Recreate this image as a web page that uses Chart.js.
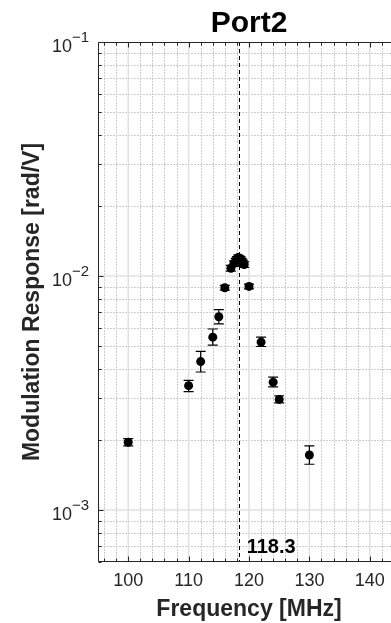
<!DOCTYPE html>
<html><head><meta charset="utf-8">
<script src="https://cdn.jsdelivr.net/npm/chart.js@4"></script>
<style>html,body{margin:0;padding:0;background:#fff;overflow:hidden;}
#wrap{position:relative;width:410px;height:623px;}
</style></head><body>
<div id="wrap"><canvas id="c"></canvas></div>
<script>
// ---- data ----
const frequencies = [100, 110, 112, 114, 115, 116, 117, 117.5, 117.8, 118, 118.2, 118.4, 118.6, 118.8, 119, 119.2, 120, 122, 124, 125, 130];
const response    = [1.95e-3, 3.40e-3, 4.31e-3, 5.48e-3, 6.70e-3, 8.91e-3, 1.08e-2, 1.13e-2, 1.16e-2, 1.18e-2, 1.20e-2, 1.19e-2, 1.18e-2, 1.16e-2, 1.14e-2, 1.12e-2, 9.03e-3, 5.22e-3, 3.52e-3, 2.97e-3, 1.72e-3];
const errLow      = [1.88e-3, 3.21e-3, 3.89e-3, 5.07e-3, 6.24e-3, 8.70e-3, 1.05e-2, 1.10e-2, 1.13e-2, 1.15e-2, 1.17e-2, 1.16e-2, 1.15e-2, 1.13e-2, 1.11e-2, 1.09e-2, 8.82e-3, 5.00e-3, 3.36e-3, 2.87e-3, 1.57e-3];
const errHigh     = [2.02e-3, 3.58e-3, 4.77e-3, 5.94e-3, 7.18e-3, 9.12e-3, 1.11e-2, 1.16e-2, 1.19e-2, 1.21e-2, 1.23e-2, 1.22e-2, 1.21e-2, 1.19e-2, 1.17e-2, 1.15e-2, 9.24e-3, 5.48e-3, 3.70e-3, 3.08e-3, 1.88e-3];
const xTickValues = [100, 110, 120, 130, 140];
const yDecades = [1e-3, 1e-2, 1e-1];
const yTickExponents = ['\u22123', '\u22122', '\u22121'];
const resonanceFreq = 118.3;
const resonanceLabel = '118.3';
const chartTitle = 'Port2';
const xTitle = 'Frequency [MHz]';
const yTitle = 'Modulation Response [rad/V]';

const X_MIN = 95, X_MAX = 145, Y_MIN = 6e-4, Y_MAX = 1e-1;
const xMinorGrid = []; for (let v = 96; v <= 144; v += 2) xMinorGrid.push(v);
const yMinorGrid = []; for (let e = -4; e <= -1; e++) for (let m = 1; m <= 9; m++) { const v = m * Math.pow(10, e); if (v >= Y_MIN * 0.999 && v <= Y_MAX * 1.001) yMinorGrid.push(v); }

const FONT = '"Liberation Sans", Arial, Helvetica, sans-serif';
const AXIS_COLOR = '#262626';

const decor = {
  id: 'decor',
  beforeDatasetsDraw(chart) {
    const {ctx, chartArea: a, scales: {x, y}} = chart;
    ctx.save();
    ctx.beginPath(); ctx.rect(a.left, a.top, a.right - a.left, a.bottom - a.top); ctx.clip();
    // minor grid (dotted)
    ctx.strokeStyle = '#cdcdcd'; ctx.lineWidth = 1; ctx.setLineDash([2, 1]);
    xMinorGrid.forEach(v => { if (v % 10 === 0) return; const p = Math.round(x.getPixelForValue(v)) + 0.5; ctx.beginPath(); ctx.moveTo(p, a.top); ctx.lineTo(p, a.bottom); ctx.stroke(); });
    yMinorGrid.forEach(v => { if (yDecades.some(d => Math.abs(d - v) / d < 1e-6)) return; const p = Math.round(y.getPixelForValue(v)) + 0.5; ctx.beginPath(); ctx.moveTo(a.left, p); ctx.lineTo(a.right, p); ctx.stroke(); });
    // major grid (solid light)
    ctx.setLineDash([]); ctx.strokeStyle = '#e0e0e0'; ctx.lineWidth = 1.5;
    xMinorGrid.forEach(v => { if (v % 10 !== 0) return; const p = x.getPixelForValue(v); ctx.beginPath(); ctx.moveTo(p, a.top); ctx.lineTo(p, a.bottom); ctx.stroke(); });
    yDecades.forEach(v => { const p = y.getPixelForValue(v); ctx.beginPath(); ctx.moveTo(a.left, p); ctx.lineTo(a.right, p); ctx.stroke(); });
    // resonance dashed line
    ctx.strokeStyle = '#000'; ctx.lineWidth = 1; ctx.setLineDash([4, 3]);
    const rp = Math.round(x.getPixelForValue(resonanceFreq)) + 0.5;
    ctx.beginPath(); ctx.moveTo(rp, a.top); ctx.lineTo(rp, a.bottom); ctx.stroke();
    ctx.setLineDash([]);
    // error bars
    ctx.strokeStyle = '#000'; ctx.lineWidth = 1.2;
    frequencies.forEach((f, i) => {
      const px = x.getPixelForValue(f);
      const pl = y.getPixelForValue(errLow[i]);
      const ph = y.getPixelForValue(errHigh[i]);
      ctx.beginPath();
      ctx.moveTo(px, pl); ctx.lineTo(px, ph);
      ctx.moveTo(px - 5, pl); ctx.lineTo(px + 5, pl);
      ctx.moveTo(px - 5, ph); ctx.lineTo(px + 5, ph);
      ctx.stroke();
    });
    ctx.restore();
  },
  afterDraw(chart) {
    const {ctx, chartArea: a, scales: {x, y}} = chart;
    ctx.save();
    // frame
    ctx.strokeStyle = AXIS_COLOR; ctx.lineWidth = 1;
    const L = Math.round(a.left) + 0.5, T = Math.round(a.top) + 0.5, B = Math.round(a.bottom) - 0.5, R = Math.round(a.right) - 0.5;
    ctx.beginPath(); ctx.moveTo(L, T); ctx.lineTo(R, T); ctx.lineTo(R, B); ctx.lineTo(L, B); ctx.closePath(); ctx.stroke();
    // x ticks (top and bottom, inward)
    ctx.beginPath();
    xMinorGrid.forEach(v => {
      const p = Math.round(x.getPixelForValue(v)) + 0.5;
      const len = v % 10 === 0 ? 5 : 3;
      ctx.moveTo(p, T); ctx.lineTo(p, T + len);
      ctx.moveTo(p, B); ctx.lineTo(p, B - len);
    });
    // y ticks (left, inward)
    yMinorGrid.forEach(v => {
      const p = Math.round(y.getPixelForValue(v)) + 0.5;
      const len = yDecades.some(d => Math.abs(d - v) / d < 1e-6) ? 5 : 3;
      ctx.moveTo(L, p); ctx.lineTo(L + len, p);
      ctx.moveTo(R, p); ctx.lineTo(R - len, p);
    });
    ctx.stroke();
    // y tick labels 10^n
    ctx.fillStyle = AXIS_COLOR; ctx.textAlign = 'left'; ctx.textBaseline = 'alphabetic';
    const rightX = a.left - 9;
    yDecades.forEach((v, i) => {
      const p = y.getPixelForValue(v);
      ctx.font = '15px ' + FONT;
      const sup = yTickExponents[i];
      const sw = ctx.measureText(sup).width;
      ctx.fillText(sup, rightX - sw, p);
      ctx.font = '18px ' + FONT;
      const bw = ctx.measureText('10').width;
      ctx.fillText('10', rightX - sw - bw, p + 10);
    });
    // resonance label
    ctx.fillStyle = '#000'; ctx.font = 'bold 20px ' + FONT;
    ctx.fillText(resonanceLabel, x.getPixelForValue(resonanceFreq) + 8, a.bottom - 9);
    ctx.restore();
  }
};

new Chart(document.getElementById('c'), {
  type: 'scatter',
  data: {
    datasets: [{
      data: frequencies.map((f, i) => ({x: f, y: response[i]})),
      backgroundColor: '#000', borderColor: '#000', borderWidth: 0,
      pointRadius: 4.5, pointHoverRadius: 4.5, showLine: false
    }]
  },
  options: {
    responsive: true, maintainAspectRatio: false, animation: false,
    layout: {padding: {left: 0, right: 10, top: 0, bottom: 0}},
    plugins: {
      legend: {display: false}, tooltip: {enabled: false},
      title: {display: true, text: chartTitle, fullSize: false, color: '#000',
        font: {family: FONT, size: 30, weight: 'bold'}, padding: {top: 6, bottom: 0}}
    },
    scales: {
      x: {
        type: 'linear', min: X_MIN, max: X_MAX,
        afterBuildTicks(s) { s.ticks = xTickValues.map(v => ({value: v})); },
        afterFit(s) { s.height = 61; },
        grid: {display: false, drawTicks: false}, border: {display: false},
        ticks: {autoSkip: false, maxRotation: 0, padding: 8, color: AXIS_COLOR, font: {family: FONT, size: 18}},
        title: {display: true, text: xTitle, color: AXIS_COLOR, font: {family: FONT, size: 23, weight: 'bold'}, padding: {top: 0, bottom: 0}}
      },
      y: {
        type: 'logarithmic', min: Y_MIN, max: Y_MAX,
        afterBuildTicks(s) { s.ticks = yDecades.map(v => ({value: v})); },
        afterFit(s) { s.width = 98; },
        grid: {display: false, drawTicks: false}, border: {display: false},
        ticks: {display: false},
        title: {display: true, text: yTitle, color: AXIS_COLOR, font: {family: FONT, size: 23, weight: 'bold'}, padding: {top: 19, bottom: 0}}
      }
    }
  },
  plugins: [decor]
});
</script>
</body></html>
